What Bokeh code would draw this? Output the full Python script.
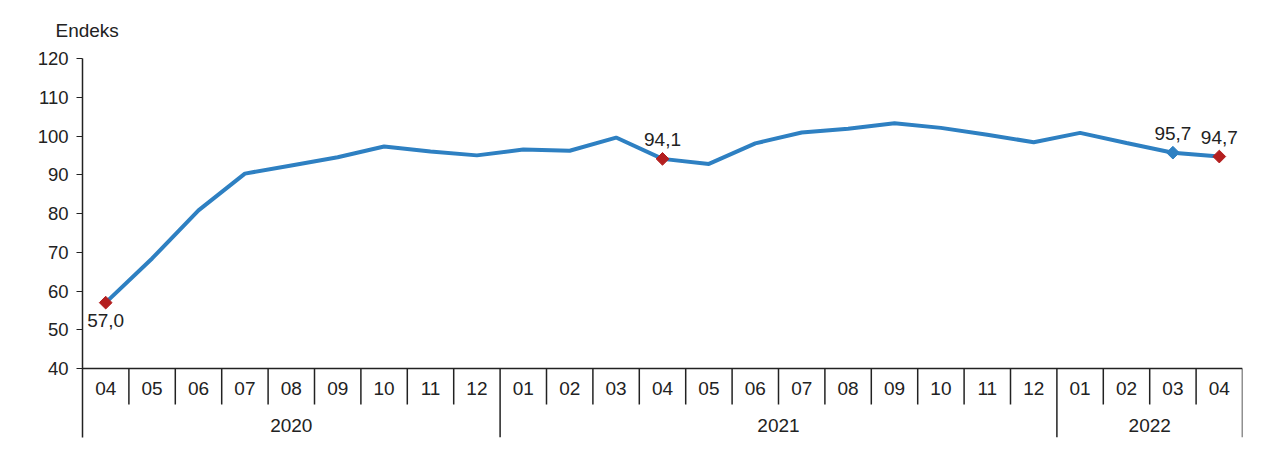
import numpy as np
from bokeh.plotting import figure
from bokeh.models import Range1d, FixedTicker, ColumnDataSource
from bokeh.core.properties import value
from bokeh.embed import file_html
from bokeh.resources import INLINE

months = ["04", "05", "06", "07", "08", "09", "10", "11", "12",
          "01", "02", "03", "04", "05", "06", "07", "08", "09", "10", "11", "12",
          "01", "02", "03", "04"]
years = ["2020", "2021", "2022"]
year_counts = [9, 12, 4]
index_values = [57.0, 68.4, 80.8, 90.3, 92.4, 94.5, 97.3, 96.0, 95.0,
                96.5, 96.2, 99.6, 94.1, 92.8, 98.1, 100.9, 101.9, 103.3, 102.1, 100.3, 98.4,
                100.8, 98.2, 95.7, 94.7]
y_ticks = [40, 50, 60, 70, 80, 90, 100, 110, 120]
red_points = [0, 12, 24]
blue_points = [23]
label_points = [0, 12, 23, 24]

FONT = "Liberation Sans"
LINE_COLOR = "#2e80c2"
RED = "#b41f1f"
TXT = "#222222"
FS = "19px"

n = len(months)
x = np.arange(n) + 0.5

p = figure(width=1270, height=450, x_range=Range1d(0, n), y_range=Range1d(22.2, 120),
           output_backend="svg", toolbar_location=None,
           min_border_left=82, min_border_right=28, min_border_bottom=13, min_border_top=58)
p.outline_line_color = None
p.grid.visible = False
p.xaxis.visible = False
p.background_fill_color = "white"

p.title.text = "Endeks"
p.title.align = "left"
p.title.offset = -27
p.title.standoff = 35
p.title.text_font = FONT
p.title.text_font_size = FS
p.title.text_font_style = "normal"
p.title.text_color = TXT

ya = p.yaxis[0]
ya.ticker = FixedTicker(ticks=y_ticks)
ya.major_label_text_font = FONT
ya.major_label_text_font_size = "18.5px"
ya.major_label_text_color = TXT
ya.axis_line_color = "#222222"
ya.axis_line_width = 1.5
ya.major_tick_line_color = "#222222"
ya.major_tick_out = 6
ya.major_tick_in = 0
ya.minor_tick_line_color = None
ya.major_label_standoff = 8

# category axis drawn in data space below y=40
base = y_ticks[0]
p.segment(x0=[0], y0=[base], x1=[n], y1=[base], line_color="#222222", line_width=1.5)
bounds = np.arange(1, n + 1)
year_edges = np.cumsum(year_counts)
month_seps = [b for b in bounds if b not in year_edges]
p.segment(x0=month_seps, y0=[base] * len(month_seps), x1=month_seps, y1=[30.7] * len(month_seps),
          line_color="#222222", line_width=1.5)
p.segment(x0=list(year_edges), y0=[base] * len(year_edges), x1=list(year_edges), y1=[22.2] * len(year_edges),
          line_color="#222222", line_width=1.5)
p.text(x=x, y=[34.8] * n, text=months, text_font=value(FONT), text_font_size=FS,
       text_align="center", text_baseline="middle", text_color=TXT)
starts = np.concatenate([[0], year_edges[:-1]])
year_x = (starts + year_edges) / 2
p.text(x=year_x, y=[25.3] * len(years), text=years, text_font=value(FONT), text_font_size=FS,
       text_align="center", text_baseline="middle", text_color=TXT)

p.line(x, index_values, line_color=LINE_COLOR, line_width=4)
p.scatter([x[i] for i in red_points], [index_values[i] for i in red_points],
          marker="square", angle=np.pi / 4, size=9, fill_color=RED, line_color=RED)
p.scatter([x[i] for i in blue_points], [index_values[i] for i in blue_points],
          marker="square", angle=np.pi / 4, size=9, fill_color=LINE_COLOR, line_color=LINE_COLOR)

labs = [f"{index_values[i]:.1f}".replace(".", ",") for i in label_points]
offs = [18 if i == 0 else -19 for i in label_points]
src = ColumnDataSource(dict(x=[x[i] for i in label_points], y=[index_values[i] for i in label_points],
                            t=labs, o=offs))
p.text(x="x", y="y", text="t", y_offset="o", source=src, text_font=value(FONT), text_font_size=FS,
       text_align="center", text_baseline="middle", text_color=TXT)

open("out.html", "w").write(file_html(p, INLINE))
